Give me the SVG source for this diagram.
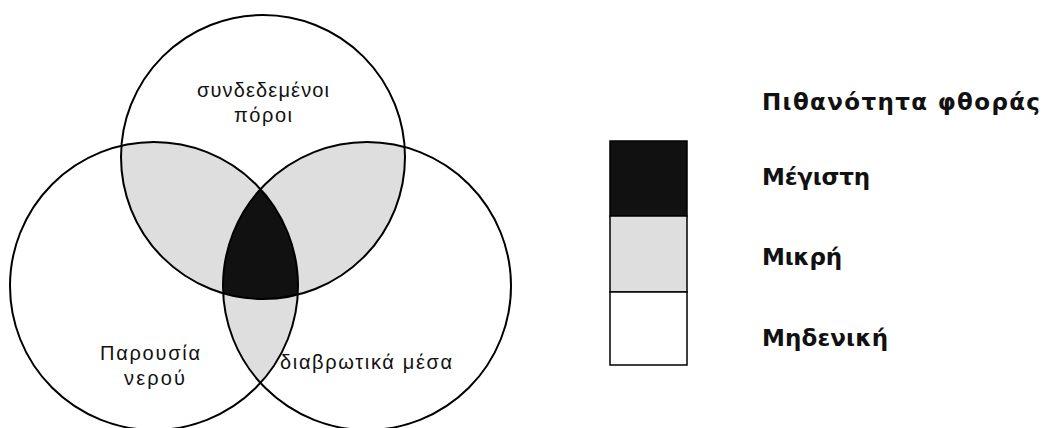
<svg xmlns="http://www.w3.org/2000/svg" width="1048" height="428" viewBox="0 0 1048 428">
<style>
.ring{fill:none;stroke:#000;stroke-width:2}
.lbl{font-family:"Liberation Sans",Arial,sans-serif;font-size:20px;fill:#111}
.leg{font-family:"DejaVu Sans",Verdana,sans-serif;font-size:23px;font-weight:bold;fill:#111}
.gray{fill:#dedede}
.dark{fill:#111}
.box{stroke:#000;stroke-width:1.5}
</style>
<defs>
<clipPath id="clipT"><circle cx="263" cy="157" r="142"/></clipPath>
<clipPath id="clipL"><circle cx="154" cy="286" r="144"/></clipPath>
<clipPath id="clipR"><circle cx="367" cy="286" r="144"/></clipPath>
</defs>
<rect width="1048" height="428" fill="#fff"/>
<g id="regions">
<g clip-path="url(#clipT)">
<circle class="gray" cx="154" cy="286" r="144"/>
<circle class="gray" cx="367" cy="286" r="144"/>
</g>
<g clip-path="url(#clipL)">
<circle class="gray" cx="367" cy="286" r="144"/>
</g>
<g clip-path="url(#clipL)"><g clip-path="url(#clipR)">
<circle class="dark" cx="263" cy="157" r="142"/>
</g></g>
</g>
<g id="connected-pores">
<circle class="ring" cx="263" cy="157" r="142"/>
<text class="lbl" x="197" y="97" textLength="132" lengthAdjust="spacing">συνδεδεμένοι</text>
<text class="lbl" x="234" y="122" textLength="58" lengthAdjust="spacing">πόροι</text>
</g>
<g id="water-presence">
<circle class="ring" cx="154" cy="286" r="144"/>
<text class="lbl" x="100" y="360" textLength="100" lengthAdjust="spacing">Παρουσία</text>
<text class="lbl" x="124" y="385" textLength="61" lengthAdjust="spacing">νερού</text>
</g>
<g id="corrosive-media">
<circle class="ring" cx="367" cy="286" r="144"/>
<text class="lbl" x="280" y="369" textLength="172" lengthAdjust="spacing">διαβρωτικά μέσα</text>
</g>
<g id="legend">
<text class="leg" x="762" y="110" textLength="278" lengthAdjust="spacing">Πιθανότητα φθοράς</text>
<rect class="box dark" x="610" y="141" width="77" height="75"/>
<rect class="box gray" x="610" y="216" width="77" height="76"/>
<rect class="box" fill="#fff" x="610" y="292" width="77" height="73"/>
<text class="leg" x="762" y="185" textLength="108" lengthAdjust="spacing">Μέγιστη</text>
<text class="leg" x="762" y="265" textLength="80" lengthAdjust="spacing">Μικρή</text>
<text class="leg" x="762" y="346" textLength="126" lengthAdjust="spacing">Μηδενική</text>
</g>
</svg>
